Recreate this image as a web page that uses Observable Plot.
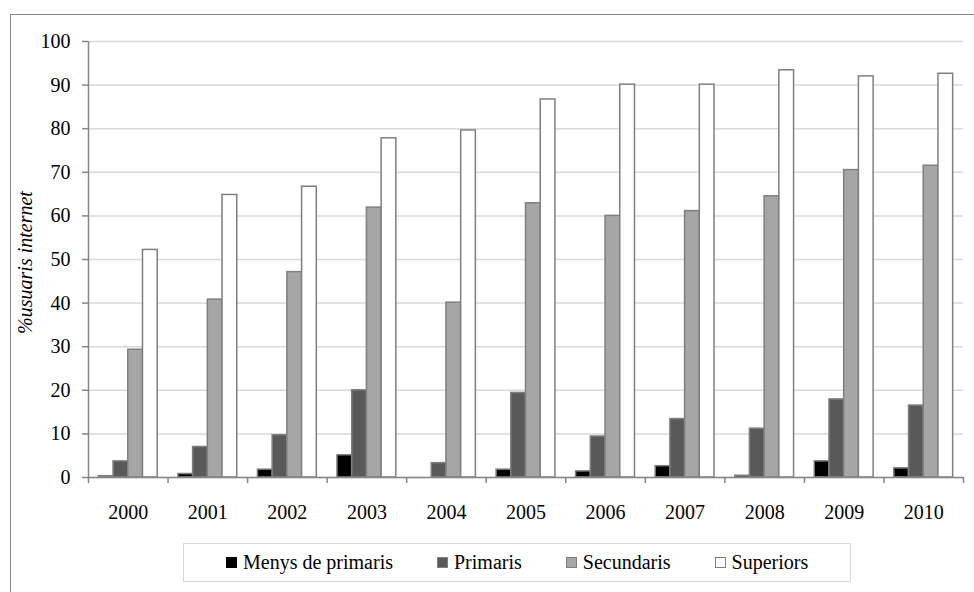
<!DOCTYPE html>
<html>
<head>
<meta charset="utf-8">
<script src="https://cdn.jsdelivr.net/npm/d3@7"></script>
<script src="https://cdn.jsdelivr.net/npm/@observablehq/plot@0.6"></script>
<style>
  html, body { margin: 0; padding: 0; background: #fff; }
  #wrap { position: relative; width: 974px; height: 592px; overflow: hidden; background: #fff;
          font-family: "Liberation Serif", Tinos, "Times New Roman", Times, "Nimbus Roman", "DejaVu Serif", serif; color: #000; }
  #outer { position: absolute; left: 10px; top: 14px; width: 1000px; height: 1000px; border: 1.5px solid #868686; }
  #chart { position: absolute; left: 0; top: 0; }
  #legend { position: absolute; left: 183px; top: 543px; width: 668px; height: 39px; box-sizing: border-box;
            border: 1.5px solid #d9d9d9; display: flex; align-items: center; justify-content: flex-start; gap: 44px;
            font-size: 20px; padding-left: 42px; }
  .item { display: flex; align-items: center; gap: 6px; white-space: nowrap; }
  .sw { width: 9px; height: 9px; border: 1px solid #7f7f7f; display: inline-block; }
  svg text { font-family: "Liberation Serif", Tinos, "Times New Roman", Times, "Nimbus Roman", "DejaVu Serif", serif; }
</style>
</head>
<body>
<div id="wrap">
  <div id="outer"></div>
  <div id="chart"></div>
  <div id="legend"></div>
</div>
<script>
const years = [2000, 2001, 2002, 2003, 2004, 2005, 2006, 2007, 2008, 2009, 2010];
const series = ["Menys de primaris", "Primaris", "Secundaris", "Superiors"];
const menysDePrimaris = [0.3, 0.8, 1.8, 5.1, 0, 1.8, 1.4, 2.6, 0.4, 3.7, 2.1];
const primaris = [3.7, 7.0, 9.7, 20.0, 3.3, 19.4, 9.4, 13.4, 11.2, 17.9, 16.5];
const secundaris = [29.3, 40.8, 47.1, 61.9, 40.1, 62.9, 60.0, 61.1, 64.5, 70.5, 71.5];
const superiors = [52.2, 64.8, 66.7, 77.8, 79.6, 86.7, 90.1, 90.1, 93.4, 92.0, 92.6];
const yTicks = [0, 10, 20, 30, 40, 50, 60, 70, 80, 90, 100];
const fills = ["#000000", "#595959", "#a6a6a6", "#ffffff"];

const values = [menysDePrimaris, primaris, secundaris, superiors];
const barW = 0.185;
const groupPad = (1 - series.length * barW) / 2;
const rows = [];
years.forEach((yr, i) => {
  series.forEach((s, k) => {
    const v = values[k][i];
    if (v > 0) rows.push({ i, k, series: s, value: v, x1: i + groupPad + k * barW, x2: i + groupPad + (k + 1) * barW });
  });
});

const gridGray = "#d9d9d9";
const axisGray = "#868686";
const serif = "'Liberation Serif', Tinos, 'Times New Roman', Times, 'Nimbus Roman', 'DejaVu Serif', serif";

const chart = Plot.plot({
  width: 974,
  height: 530,
  marginLeft: 88,
  marginRight: 11,
  marginTop: 41,
  marginBottom: 53,
  style: { fontFamily: serif, fontSize: "20px", color: "#000", background: "transparent" },
  x: { type: "linear", domain: [0, years.length] },
  y: { domain: [0, 100] },
  color: { domain: series, range: fills },
  marks: [
    Plot.gridY(yTicks, { stroke: gridGray, strokeOpacity: 1, strokeWidth: 1.5 }),
    Plot.rectY(rows, { x1: "x1", x2: "x2", y: "value", fill: "series", stroke: "#7f7f7f", strokeWidth: 1.5 }),
    Plot.ruleY([0], { stroke: axisGray, strokeWidth: 1.5 }),
    Plot.ruleX([0], { stroke: axisGray, strokeWidth: 1.5 }),
    Plot.axisY(yTicks, { label: null, tickSize: 6, tickPadding: 12, stroke: axisGray, strokeWidth: 1.5, fontSize: 20, fill: "#000" }),
    Plot.axisX(d3.range(0, years.length + 1), { label: null, tickSize: 6, tickFormat: () => "", stroke: axisGray, strokeWidth: 1.5 }),
    Plot.axisX(years.map((_, i) => i + 0.5), { label: null, tickSize: 0, tickPadding: 27, tickFormat: v => String(years[Math.floor(v)]), fontSize: 20, fill: "#000" }),
    Plot.text(["%usuaris internet"], { frameAnchor: "left", textAnchor: "middle", dx: -63, dy: 3, rotate: -90, fontStyle: "italic", fontSize: 20, fill: "#000", fontFamily: serif })
  ]
});
document.getElementById("chart").append(chart);

const legend = document.getElementById("legend");
series.forEach((s, k) => {
  const it = document.createElement("div");
  it.className = "item";
  const sw = document.createElement("span");
  sw.className = "sw";
  sw.style.background = fills[k];
  if (k === 0) sw.style.borderColor = "#000";
  const t = document.createElement("span");
  t.textContent = s;
  it.append(sw, t);
  legend.append(it);
});
</script>
</body>
</html>
